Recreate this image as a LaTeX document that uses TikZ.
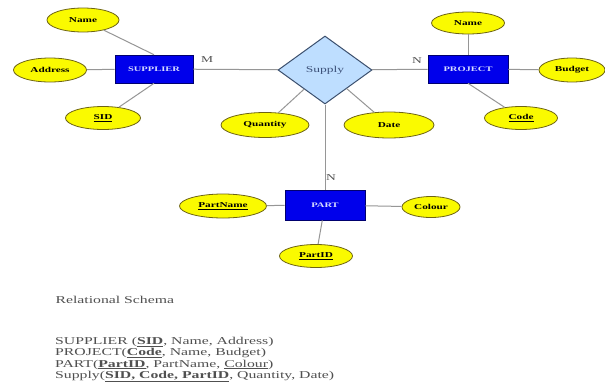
\documentclass[tikz,border=0pt]{standalone}
\usepackage{fontspec}
\setmainfont[FakeStretch=1.5]{Liberation Serif}
\usetikzlibrary{shapes.geometric}
\definecolor{attrfill}{RGB}{250,250,0}
\definecolor{attrline}{RGB}{110,100,20}
\definecolor{entfill}{RGB}{0,0,235}
\definecolor{entline}{RGB}{0,0,110}
\definecolor{enttext}{RGB}{215,220,255}
\definecolor{relfill}{RGB}{190,222,255}
\definecolor{relline}{RGB}{60,80,110}
\definecolor{relltext}{RGB}{60,80,120}
\definecolor{linkgray}{RGB}{150,150,150}
\definecolor{schemagray}{RGB}{80,80,80}
\begin{document}
\begin{tikzpicture}
			[x=1pt,y=-1pt,
			attr/.style={ellipse,draw=attrline,fill=attrfill,line width=0.8pt,inner sep=0pt,font=\fontsize{7.5}{9}\selectfont\bfseries},
			entity/.style={rectangle,draw=entline,fill=entfill,text=enttext,line width=0.6pt,minimum width=78pt,minimum height=28pt,inner sep=0pt,font=\fontsize{7}{8}\selectfont\bfseries},
			rel/.style={diamond,draw=relline,fill=relfill,text=relltext,line width=1pt,minimum width=94pt,minimum height=68pt,inner sep=0pt,font=\fontsize{9}{10}\selectfont},
			link/.style={draw=linkgray,line width=1pt},
			card/.style={text=schemagray,font=\fontsize{9}{10}\selectfont}]
			\useasboundingbox[fill=white] (0,0) rectangle (605,391);
			\node[rel,name=supply]at(325,70){Supply};
			\node[entity,name=supplier]at(154,69){SUPPLIER};
			\node[entity,name=project,minimum width=80pt]at(468,69){PROJECT};
			\node[entity,name=part,minimum width=80pt,minimum height=30pt]at(325,205){PART};
			\node[attr,name=sname,minimum width=72pt,minimum height=24pt]at(83,20){Name};
			\node[attr,name=address,minimum width=73pt,minimum height=24pt]at(50,70){Address};
			\node[attr,name=sid,minimum width=75pt,minimum height=23pt]at(103,118){\underline{SID}};
			\node[attr,name=quantity,minimum width=88pt,minimum height=25pt]at(265,125){Quantity};
			\node[attr,name=date,minimum width=90pt,minimum height=26pt]at(389,125){Date};
			\node[attr,name=pname,minimum width=73pt,minimum height=22pt]at(468,23){Name};
			\node[attr,name=budget,minimum width=66pt,minimum height=24pt]at(572,70){Budget};
			\node[attr,name=code,minimum width=73pt,minimum height=23pt]at(521,118){\underline{Code}};
			\node[attr,name=partname,minimum width=87pt,minimum height=24pt]at(223,206){\underline{PartName}};
			\node[attr,name=colour,minimum width=58pt,minimum height=21pt]at(431,207){Colour};
			\node[attr,name=partid,minimum width=73pt,minimum height=23pt]at(316,256){\underline{PartID}};
			\draw[link] (sname)--(supplier.north);
			\draw[link] (address)--(supplier);
			\draw[link] (sid)--(supplier.south);
			\draw[link] (supplier)--(supply);
			\draw[link] (quantity)--(supply);
			\draw[link] (date)--(supply);
			\draw[link] (supply)--(project);
			\draw[link] (pname)--(project);
			\draw[link] (budget)--(project);
			\draw[link] (code)--(project.south);
			\draw[link] (supply)--(part);
			\draw[link] (partname)--(part);
			\draw[link] (colour)--(part);
			\draw[link] (partid)--(part);
			\node[card,name=m1]at(207,60){M};
			\node[card,name=n1]at(417,61){N};
			\node[card,name=n2]at(331,178){N};
			\node[anchor=west,text=schemagray,font=\fontsize{10.5}{11.3}\selectfont,name=heading]at(52,300){Relational Schema};
			\node[anchor=north west,align=left,inner sep=0pt,text=schemagray,font=\fontsize{10.5}{11.3}\selectfont,name=schema]at(55,337){%
				SUPPLIER (\underline{\textbf{SID}}, Name, Address)\\
				PROJECT(\underline{\textbf{Code}}, Name, Budget)\\
				PART(\underline{\textbf{PartID}}, PartName, \underline{Colour})\\
				Supply(\underline{\textbf{SID, Code, PartID}}, Quantity, Date)};
		\end{tikzpicture}
\end{document}
